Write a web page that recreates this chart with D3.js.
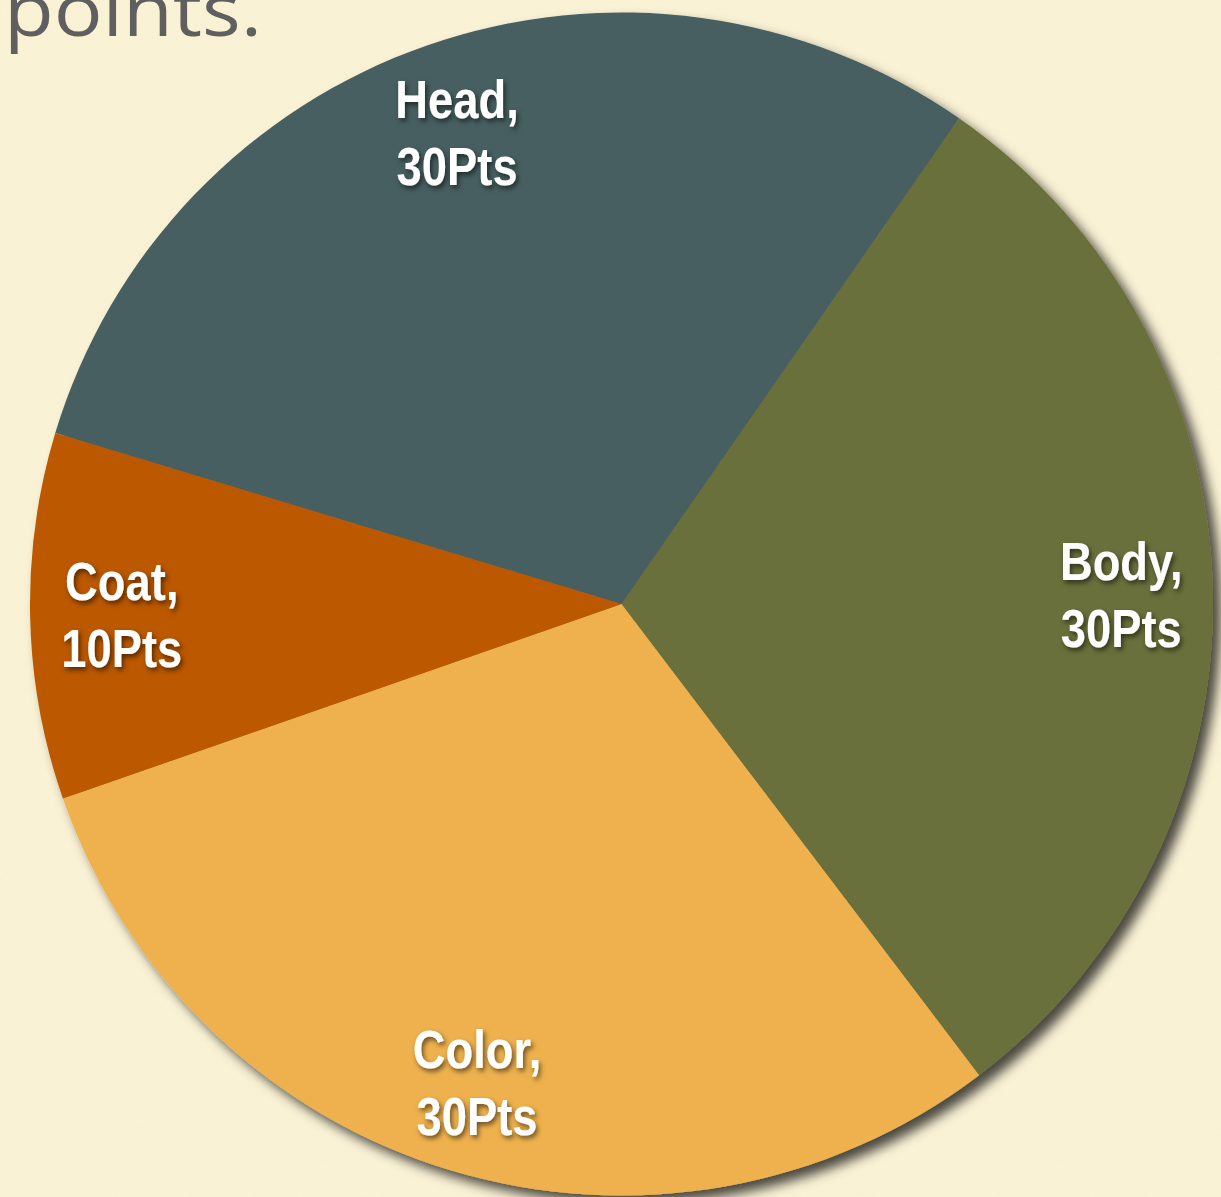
<!DOCTYPE html>
<html><head><meta charset="utf-8">
<script src="https://cdn.jsdelivr.net/npm/d3@7"></script>
<style>html,body{margin:0;padding:0;background:#f9f1d4;overflow:hidden}</style>
</head><body>
<svg id="chart" width="1221" height="1197"></svg>
<script>
const categories = ["Head", "Body", "Color", "Coat"];
const values = [30, 30, 30, 10];
const unitLabel = "Pts";
const colors = ["#475e60", "#6b6f3a", "#eeb14d", "#bb5906"];
const titleText = "points.";

const W = 1221, H = 1197;
const cx = 621.5, cy = 604, R = 591.5;
const startDeg = -73.2;

const svg = d3.select("#chart");
const defs = svg.append("defs");

// paper texture
const tex = defs.append("filter").attr("id","paper").attr("x",0).attr("y",0).attr("width","100%").attr("height","100%");
tex.append("feTurbulence").attr("type","fractalNoise").attr("baseFrequency",0.35).attr("numOctaves",2).attr("seed",3).attr("result","n");
tex.append("feColorMatrix").attr("in","n").attr("type","matrix")
  .attr("values","0 0 0 0 0.88  0 0 0 0 0.82  0 0 0 0 0.62  0 0 0 0.3 -0.05");
svg.append("rect").attr("width",W).attr("height",H).attr("fill","#faf2d5");
svg.append("rect").attr("width",W).attr("height",H).attr("filter","url(#paper)").attr("opacity",0.45);

const sh = defs.append("filter").attr("id","pieShadow").attr("x","-10%").attr("y","-10%").attr("width","130%").attr("height","130%");
sh.append("feDropShadow").attr("dx",8).attr("dy",8).attr("stdDeviation",6).attr("flood-color","#000").attr("flood-opacity",0.7);

const ts = defs.append("filter").attr("id","txtShadow").attr("x","-20%").attr("y","-30%").attr("width","150%").attr("height","170%");
ts.append("feDropShadow").attr("dx",2).attr("dy",3).attr("stdDeviation",2.5).attr("flood-color","#000").attr("flood-opacity",0.55);

// title fragment
svg.append("text").attr("x",4).attr("y",36)
  .attr("font-family","'Open Sans', 'Noto Sans', sans-serif")
  .attr("font-size",74).attr("fill","#5f5f5f")
  .attr("textLength",258).attr("lengthAdjust","spacingAndGlyphs")
  .text(titleText);

const data = categories.map((c,i)=>({name:c, value:values[i], color:colors[i]}));
const pie = d3.pie().sort(null).value(d=>d.value)
  .startAngle(startDeg*Math.PI/180).endAngle(startDeg*Math.PI/180 + 2*Math.PI);
const arcs = pie(data);
const arc = d3.arc().innerRadius(0).outerRadius(R);
const labelArc = d3.arc().innerRadius(R*0.845).outerRadius(R*0.845);

const g = svg.append("g").attr("transform",`translate(${cx},${cy})`);
g.append("g").attr("filter","url(#pieShadow)")
  .selectAll("path").data(arcs).join("path")
  .attr("d",arc).attr("fill",d=>d.data.color);

const lg = g.append("g").attr("filter","url(#txtShadow)");
arcs.forEach(d=>{
  const [x,y] = labelArc.centroid(d);
  const t = lg.append("g").attr("transform",`translate(${x},${y}) scale(0.84,1)`)
    .append("text").attr("x",0).attr("y",0)
    .attr("text-anchor","middle")
    .attr("font-family","'Liberation Sans Narrow', 'Arial Narrow', 'Liberation Sans', sans-serif")
    .attr("font-weight","bold").attr("font-size",54).attr("fill","#fff");
  t.append("tspan").attr("x",0).attr("dy",-14).text(d.data.name + ",");
  t.append("tspan").attr("x",0).attr("dy",67).text(d.data.value + unitLabel);
});
</script>
</body></html>
